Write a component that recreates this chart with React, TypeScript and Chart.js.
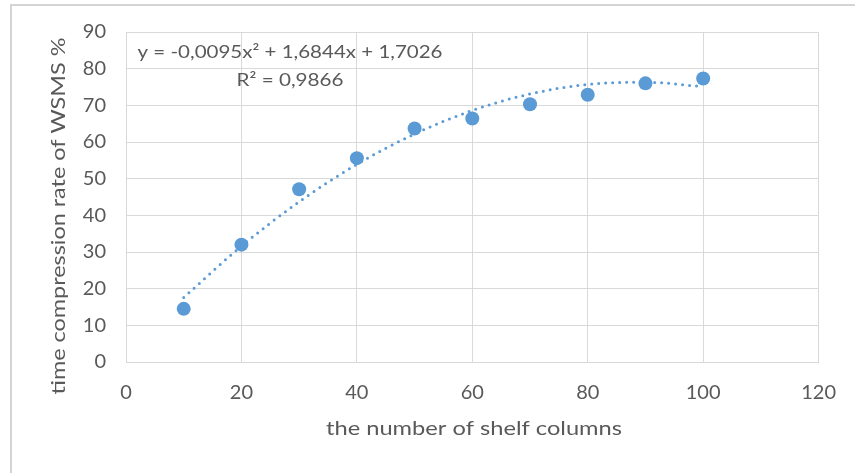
import React, { useEffect, useRef } from "react";
import { Chart, registerables } from "chart.js";

Chart.register(...registerables);

const shelfColumns = [10, 20, 30, 40, 50, 60, 70, 80, 90, 100];
const compressionRate = [14.5, 32.0, 47.1, 55.6, 63.7, 66.4, 70.3, 72.9, 76.0, 77.3];
const trendValues = [17.6, 31.6, 43.7, 53.9, 62.2, 68.6, 73.1, 75.7, 76.3, 75.1];
const equationText = "y = -0,0095x² + 1,6844x + 1,7026";
const r2Text = "R² = 0,9866";
const yTitle = "time compression rate of WSMS %";
const xTitle = "the number of shelf columns";

const FONT = "Lato, 'Open Sans', sans-serif";
const TEXT = "#595959";
const GRID = "#d9d9d9";
const BLUE = "#5b9bd5";

function stretchedText(ctx: any, text: string, cx: number, cy: number, targetW: number, rot = 0) {
  const w = ctx.measureText(text).width;
  ctx.save();
  ctx.translate(cx, cy);
  if (rot) ctx.rotate(rot);
  ctx.scale(targetW / w, 1);
  ctx.textAlign = "center";
  ctx.textBaseline = "middle";
  ctx.fillText(text, 0, 0);
  ctx.restore();
}

const overlay = {
  id: "overlay",
  beforeDraw(chart: any) {
    const ctx = chart.ctx;
    ctx.save();
    ctx.fillStyle = "#ffffff";
    ctx.fillRect(0, 0, chart.width, chart.height);
    ctx.strokeStyle = "#d4d4d4";
    ctx.lineWidth = 2;
    ctx.beginPath();
    ctx.moveTo(11, chart.height);
    ctx.lineTo(11, 5);
    ctx.lineTo(chart.width, 5);
    ctx.stroke();
    ctx.restore();
  },
  afterDraw(chart: any) {
    const ctx = chart.ctx;
    ctx.save();
    ctx.fillStyle = TEXT;
    ctx.font = `19px ${FONT}`;
    stretchedText(ctx, xTitle, 474, 429, 296);
    stretchedText(ctx, yTitle, 59, 216, 357, -Math.PI / 2);
    ctx.font = `18px ${FONT}`;
    stretchedText(ctx, equationText, 290, 52, 305);
    stretchedText(ctx, r2Text, 290, 80, 107);
    ctx.restore();
  },
};

export default function App() {
  const ref = useRef<HTMLCanvasElement | null>(null);
  useEffect(() => {
    if (!ref.current) return;
    const chart = new Chart(ref.current, {
      type: "scatter",
      data: {
        datasets: [
          {
            label: "trend",
            data: shelfColumns.map((x, i) => ({ x, y: trendValues[i] })),
            showLine: true,
            borderColor: BLUE,
            borderWidth: 3,
            borderDash: [0, 7],
            borderCapStyle: "round",
            cubicInterpolationMode: "monotone",
            pointRadius: 0,
            fill: false,
          } as any,
          {
            label: "data",
            data: shelfColumns.map((x, i) => ({ x, y: compressionRate[i] })),
            backgroundColor: BLUE,
            borderColor: BLUE,
            pointRadius: 7,
            pointBorderWidth: 0,
          },
        ],
      },
      options: {
        responsive: false,
        animation: false,
        layout: { padding: { left: 0, top: 32, right: 34, bottom: 0 } },
        plugins: { legend: { display: false }, tooltip: { enabled: false } },
        scales: {
          x: {
            type: "linear",
            min: 0,
            max: 120,
            ticks: { stepSize: 20, color: TEXT, font: { family: FONT, size: 20 }, padding: 19 },
            grid: { color: GRID, drawTicks: false, lineWidth: 1 },
            border: { color: GRID },
            afterFit: (s: any) => { s.height = 111; },
          },
          y: {
            min: 0,
            max: 90,
            ticks: { stepSize: 10, color: TEXT, font: { family: FONT, size: 20 }, padding: 20 },
            grid: { color: GRID, drawTicks: false, lineWidth: 1 },
            border: { color: GRID },
            afterFit: (s: any) => { s.width = 126; },
          },
        },
      },
      plugins: [overlay],
    });
    return () => chart.destroy();
  }, []);
  return (
    <div style={{ position: "fixed", left: 0, top: 0, width: 855, height: 473 }}>
      <canvas ref={ref} width={855} height={473} />
    </div>
  );
}
